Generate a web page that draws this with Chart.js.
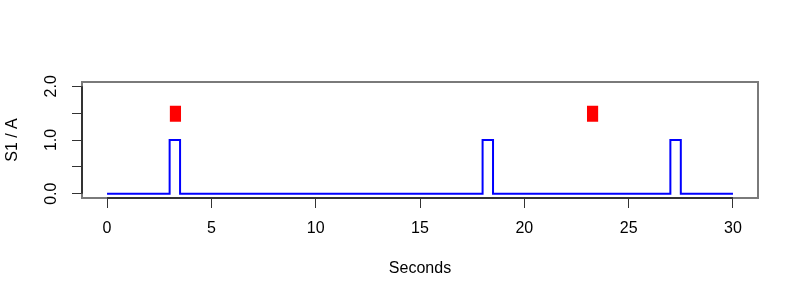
<!DOCTYPE html>
<html>
<head>
<meta charset="utf-8">
<script src="https://cdn.jsdelivr.net/npm/chart.js@4.4.1/dist/chart.umd.min.js"></script>
<style>html,body{margin:0;padding:0;background:#fff}</style>
</head>
<body>
<canvas id="c" width="800" height="300"></canvas>
<script>
// signal S1: times where it changes and the value from there on
const secs = [0, 3, 3.5, 18, 18.5, 27, 27.5, 30];
const s1 = [0, 1, 0, 1, 0, 1, 0, 0];
// red markers: [start, end] in seconds, low / high in A
const markX = [[3.0, 3.55], [23.0, 23.55]];
const markLo = 1.34, markHi = 1.64;
const xTicks = [0, 5, 10, 15, 20, 25, 30];
const yTicks = [0, 0.5, 1, 1.5, 2];
const yLabels = [0, 1, 2];

const font = {family: '"Liberation Sans", Arial, Helvetica, sans-serif', size: 16};

const datasets = [{
    data: secs.map((x, i) => ({x, y: s1[i]})),
    borderColor: '#0000ff', borderWidth: 2, stepped: true,
    pointRadius: 0, fill: false
}];
markX.forEach(m => datasets.push({
    data: [{x: m[0], y: markHi}, {x: m[1], y: markHi}],
    borderWidth: 0, pointRadius: 0, backgroundColor: '#ff0000',
    fill: {target: {value: markLo}}
}));

// R style box + axis lines
const frame = {
    id: 'frame',
    afterDatasetsDraw(ch) {
        const {ctx, chartArea: a, scales: {x, y}} = ch;
        ctx.save();
        ctx.strokeStyle = '#7a7a7a'; ctx.lineWidth = 2;
        ctx.strokeRect(a.left, a.top, a.right - a.left, a.bottom - a.top);
        ctx.strokeStyle = '#333'; ctx.lineWidth = 2;
        ctx.beginPath();
        ctx.moveTo(x.getPixelForValue(xTicks[0]), a.bottom);
        ctx.lineTo(x.getPixelForValue(xTicks[xTicks.length - 1]), a.bottom);
        ctx.moveTo(a.left, y.getPixelForValue(yTicks[0]));
        ctx.lineTo(a.left, y.getPixelForValue(yTicks[yTicks.length - 1]));
        ctx.stroke();
        ctx.restore();
    }
};

new Chart(document.getElementById('c'), {
    type: 'line',
    data: {datasets},
    plugins: [frame],
    options: {
        responsive: false, animation: false,
        layout: {padding: {top: 82, right: 42, left: 0, bottom: 0}},
        plugins: {legend: {display: false}, tooltip: {enabled: false}},
        scales: {
            x: {
                type: 'linear', min: -1.2, max: 31.2,
                afterBuildTicks: s => { s.ticks = xTicks.map(v => ({value: v})); },
                afterFit: s => { s.height = 102; },
                ticks: {font, color: '#000', padding: 11, maxRotation: 0, autoSkip: false},
                grid: {drawOnChartArea: false, drawTicks: true, tickLength: 10, color: '#333'},
                border: {display: false},
                title: {display: true, text: 'Seconds', font, color: '#000', padding: {top: 0, bottom: 22}}
            },
            y: {
                type: 'linear', min: -0.08, max: 2.08,
                afterBuildTicks: s => { s.ticks = yTicks.map(v => ({value: v})); },
                afterFit: s => { s.width = 82; },
                ticks: {
                    font, color: '#000', autoSkip: false,
                    minRotation: 90, maxRotation: 90, crossAlign: 'center', padding: 9.5,
                    callback: v => yLabels.includes(v) ? v.toFixed(1) : ''
                },
                grid: {drawOnChartArea: false, drawTicks: true, tickLength: 10, color: '#333'},
                border: {display: false},
                title: {display: true, text: 'S1 / A', font, color: '#000', padding: {top: 2.5, bottom: 0}}
            }
        }
    }
});
</script>
</body>
</html>
